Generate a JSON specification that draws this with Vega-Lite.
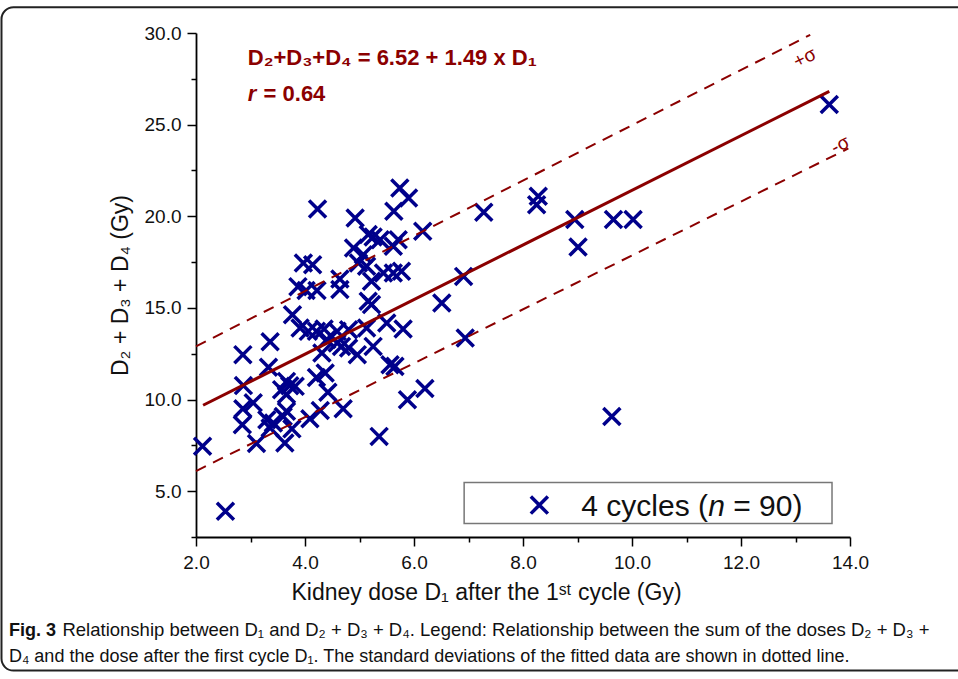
{
  "$schema": "https://vega.github.io/schema/vega-lite/v6.json",
  "width": 654,
  "height": 504,
  "autosize": "none",
  "padding": {"left": 196, "top": 33, "right": 108, "bottom": 142},
  "background": "white",
  "config": {"view": {"stroke": null}, "font": "Liberation Sans"},
  "datasets": {
    "points": [
      {"d1": 4.23, "sum": 20.40}, {"d1": 3.97, "sum": 17.45}, {"d1": 4.14, "sum": 17.36}, {"d1": 3.87, "sum": 16.16},
      {"d1": 4.02, "sum": 15.95}, {"d1": 4.22, "sum": 15.95}, {"d1": 4.64, "sum": 16.58}, {"d1": 4.64, "sum": 16.00},
      {"d1": 4.92, "sum": 19.91}, {"d1": 5.74, "sum": 21.54}, {"d1": 5.90, "sum": 21.00}, {"d1": 5.63, "sum": 20.27},
      {"d1": 7.28, "sum": 20.22}, {"d1": 6.16, "sum": 19.18}, {"d1": 5.16, "sum": 19.00}, {"d1": 5.25, "sum": 18.87},
      {"d1": 5.38, "sum": 18.72}, {"d1": 4.89, "sum": 18.27}, {"d1": 5.71, "sum": 18.72}, {"d1": 5.62, "sum": 18.36},
      {"d1": 5.07, "sum": 17.90}, {"d1": 4.98, "sum": 17.45}, {"d1": 5.13, "sum": 17.27}, {"d1": 5.44, "sum": 16.90},
      {"d1": 5.62, "sum": 16.90}, {"d1": 5.77, "sum": 17.00}, {"d1": 5.22, "sum": 16.45}, {"d1": 5.16, "sum": 15.36},
      {"d1": 5.22, "sum": 15.18}, {"d1": 6.91, "sum": 16.72}, {"d1": 6.51, "sum": 15.27}, {"d1": 8.28, "sum": 21.09},
      {"d1": 8.25, "sum": 20.63}, {"d1": 8.95, "sum": 19.82}, {"d1": 9.01, "sum": 18.32}, {"d1": 9.66, "sum": 19.82},
      {"d1": 10.02, "sum": 19.82}, {"d1": 13.62, "sum": 26.10}, {"d1": 9.63, "sum": 9.08}, {"d1": 3.77, "sum": 14.63},
      {"d1": 3.91, "sum": 13.90}, {"d1": 4.06, "sum": 13.72}, {"d1": 4.21, "sum": 13.72}, {"d1": 4.35, "sum": 13.85},
      {"d1": 4.40, "sum": 13.27}, {"d1": 4.59, "sum": 13.72}, {"d1": 4.59, "sum": 13.09}, {"d1": 4.80, "sum": 13.81},
      {"d1": 4.80, "sum": 12.81}, {"d1": 4.96, "sum": 12.45}, {"d1": 5.13, "sum": 13.90}, {"d1": 5.25, "sum": 12.90},
      {"d1": 5.50, "sum": 14.18}, {"d1": 5.80, "sum": 13.85}, {"d1": 5.56, "sum": 11.90}, {"d1": 5.65, "sum": 11.81},
      {"d1": 6.94, "sum": 13.36}, {"d1": 4.31, "sum": 12.54}, {"d1": 4.67, "sum": 12.90}, {"d1": 2.86, "sum": 12.45},
      {"d1": 3.36, "sum": 13.15}, {"d1": 3.33, "sum": 11.76}, {"d1": 2.87, "sum": 10.76}, {"d1": 3.57, "sum": 10.54},
      {"d1": 3.66, "sum": 10.99}, {"d1": 3.72, "sum": 10.75}, {"d1": 3.82, "sum": 10.72}, {"d1": 3.66, "sum": 10.27},
      {"d1": 4.21, "sum": 11.20}, {"d1": 4.37, "sum": 11.45}, {"d1": 4.42, "sum": 10.40}, {"d1": 4.70, "sum": 9.50},
      {"d1": 4.28, "sum": 9.40}, {"d1": 4.09, "sum": 8.95}, {"d1": 3.60, "sum": 9.08}, {"d1": 3.66, "sum": 9.36},
      {"d1": 3.76, "sum": 8.40}, {"d1": 3.63, "sum": 7.63}, {"d1": 3.42, "sum": 8.72}, {"d1": 3.30, "sum": 8.90},
      {"d1": 3.36, "sum": 8.45}, {"d1": 3.11, "sum": 7.60}, {"d1": 3.05, "sum": 9.82}, {"d1": 2.86, "sum": 9.50},
      {"d1": 2.85, "sum": 8.63}, {"d1": 2.12, "sum": 7.45}, {"d1": 2.54, "sum": 3.90}, {"d1": 5.36, "sum": 7.99},
      {"d1": 5.88, "sum": 9.99}, {"d1": 6.20, "sum": 10.60}
    ],
    "fit": [
      {"d1": 2.13, "sum": 9.69, "line": "fit"},
      {"d1": 13.62, "sum": 26.81, "line": "fit"}
    ],
    "band": [
      {"d1": 2.0, "sum": 12.9, "line": "+σ"},
      {"d1": 13.27, "sum": 29.9, "line": "+σ"},
      {"d1": 2.0, "sum": 6.1, "line": "-σ"},
      {"d1": 13.97, "sum": 23.7, "line": "-σ"}
    ],
    "one": [{}]
  },
  "layer": [
    {
      "data": {"name": "points"},
      "mark": {"type": "point", "shape": "M-1,-1L1,1M-1,1L1,-1", "filled": false, "stroke": "#00008B", "strokeWidth": 3.5, "size": 290, "opacity": 1},
      "encoding": {
        "x": {
          "field": "d1", "type": "quantitative",
          "scale": {"domain": [2, 14], "nice": false, "zero": false},
          "axis": {
            "title": "Kidney dose D₁ after the 1ˢᵗ cycle (Gy)",
            "values": [2, 3, 4, 5, 6, 7, 8, 9, 10, 11, 12, 13, 14],
            "labelExpr": "datum.value % 2 === 0 ? format(datum.value, '.1f') : ''",
            "tickSize": {"condition": {"test": "datum.value % 2 === 0", "value": 9}, "value": 5},
            "labelPadding": 7,
            "labelFontSize": 19,
            "labelColor": "#111",
            "labelFlush": false,
            "domainColor": "#000",
            "domainWidth": 1.8,
            "tickColor": "#000",
            "tickWidth": 1.5,
            "grid": false,
            "titleFontSize": 23,
            "titleFontWeight": "normal",
            "titleColor": "#111",
            "titleX": 290,
            "titleY": 62,
            "titleBaseline": "alphabetic",
            "titleAlign": "center"
          }
        },
        "y": {
          "field": "sum", "type": "quantitative",
          "scale": {"domain": [2.5, 30], "nice": false, "zero": false},
          "axis": {
            "title": "D₂ + D₃ + D₄ (Gy)",
            "values": [2.5, 5, 7.5, 10, 12.5, 15, 17.5, 20, 22.5, 25, 27.5, 30],
            "labelExpr": "datum.value % 5 === 0 ? format(datum.value, '.1f') : ''",
            "tickSize": {"condition": {"test": "datum.value % 5 === 0", "value": 9}, "value": 5},
            "labelPadding": 6,
            "labelFontSize": 19,
            "labelColor": "#111",
            "labelFlush": false,
            "domainColor": "#000",
            "domainWidth": 1.8,
            "tickColor": "#000",
            "tickWidth": 1.5,
            "grid": false,
            "titleFontSize": 23,
            "titleFontWeight": "normal",
            "titleColor": "#111",
            "titleX": -69,
            "titleY": 252,
            "titleAngle": 270,
            "titleBaseline": "alphabetic",
            "titleAlign": "center"
          }
        }
      }
    },
    {
      "data": {"name": "fit"},
      "mark": {"type": "line", "color": "#8B0000", "strokeWidth": 3},
      "encoding": {
        "x": {"field": "d1", "type": "quantitative"},
        "y": {"field": "sum", "type": "quantitative"}
      }
    },
    {
      "data": {"name": "band"},
      "mark": {"type": "line", "color": "#8B0000", "strokeWidth": 2, "strokeDash": [11, 8]},
      "encoding": {
        "x": {"field": "d1", "type": "quantitative"},
        "y": {"field": "sum", "type": "quantitative"},
        "detail": {"field": "line", "type": "nominal"}
      }
    },
    {
      "data": {"name": "one"},
      "mark": {"type": "text", "text": "+σ", "angle": 333.4, "fontSize": 19, "color": "#8B0000", "align": "center", "baseline": "middle"},
      "encoding": {"x": {"datum": 13.17}, "y": {"datum": 28.65}}
    },
    {
      "data": {"name": "one"},
      "mark": {"type": "text", "text": "-σ", "angle": 333.4, "fontSize": 19, "color": "#8B0000", "align": "center", "baseline": "middle"},
      "encoding": {"x": {"datum": 13.82}, "y": {"datum": 23.9}}
    },
    {
      "data": {"name": "one"},
      "mark": {"type": "text", "text": "D₂+D₃+D₄ = 6.52 + 1.49 x D₁", "fontSize": 22, "fontWeight": "bold", "color": "#8B0000", "align": "left", "baseline": "alphabetic"},
      "encoding": {"x": {"datum": 2.95}, "y": {"datum": 28.27}}
    },
    {
      "data": {"name": "one"},
      "mark": {"type": "text", "text": "r", "fontSize": 22, "fontWeight": "bold", "fontStyle": "italic", "color": "#8B0000", "align": "left", "baseline": "alphabetic"},
      "encoding": {"x": {"datum": 2.95}, "y": {"datum": 26.30}}
    },
    {
      "data": {"name": "one"},
      "mark": {"type": "text", "text": "= 0.64", "fontSize": 22, "fontWeight": "bold", "color": "#8B0000", "align": "left", "baseline": "alphabetic"},
      "encoding": {"x": {"datum": 3.24}, "y": {"datum": 26.30}}
    },
    {
      "data": {"name": "one"},
      "mark": {"type": "rect", "fill": "white", "stroke": "#777", "strokeWidth": 1.5},
      "encoding": {"x": {"datum": 6.92}, "x2": {"datum": 13.67}, "y": {"datum": 5.47}, "y2": {"datum": 3.23}}
    },
    {
      "data": {"name": "one"},
      "mark": {"type": "point", "shape": "M-1,-1L1,1M-1,1L1,-1", "filled": false, "stroke": "#00008B", "strokeWidth": 3.5, "size": 290, "opacity": 1},
      "encoding": {"x": {"datum": 8.30}, "y": {"datum": 4.24}}
    },
    {
      "data": {"name": "one"},
      "mark": {"type": "text", "text": "4 cycles (", "fontSize": 30, "color": "#111", "align": "left", "baseline": "alphabetic"},
      "encoding": {"x": {"datum": 9.07}, "y": {"datum": 3.67}}
    },
    {
      "data": {"name": "one"},
      "mark": {"type": "text", "text": "n", "fontSize": 30, "fontStyle": "italic", "color": "#111", "align": "left", "baseline": "alphabetic"},
      "encoding": {"x": {"datum": 11.40}, "y": {"datum": 3.67}}
    },
    {
      "data": {"name": "one"},
      "mark": {"type": "text", "text": "= 90)", "fontSize": 30, "color": "#111", "align": "left", "baseline": "alphabetic"},
      "encoding": {"x": {"datum": 11.857}, "y": {"datum": 3.67}}
    },
    {
      "data": {"name": "one"},
      "mark": {"type": "rect", "fill": null, "fillOpacity": 0, "stroke": "#222", "strokeWidth": 2, "cornerRadius": 12},
      "encoding": {"x": {"datum": -1.569}, "x2": {"datum": 16.3}, "y": {"datum": 31.41}, "y2": {"datum": -4.79}}
    },
    {
      "data": {"name": "one"},
      "mark": {"type": "text", "text": "Fig. 3", "fontSize": 18, "fontWeight": "bold", "color": "#111", "align": "left", "baseline": "alphabetic"},
      "encoding": {"x": {"datum": -1.431}, "y": {"datum": -2.88}}
    },
    {
      "data": {"name": "one"},
      "mark": {"type": "text", "text": "Relationship between D₁ and D₂ + D₃ + D₄. Legend: Relationship between the sum of the doses D₂ + D₃ +", "fontSize": 18.5, "color": "#111", "align": "left", "baseline": "alphabetic", "limit": 885},
      "encoding": {"x": {"datum": -0.45}, "y": {"datum": -2.88}}
    },
    {
      "data": {"name": "one"},
      "mark": {"type": "text", "text": "D₄ and the dose after the first cycle D₁. The standard deviations of the fitted data are shown in dotted line.", "fontSize": 18, "color": "#111", "align": "left", "baseline": "alphabetic"},
      "encoding": {"x": {"datum": -1.431}, "y": {"datum": -4.30}}
    }
  ]
}
